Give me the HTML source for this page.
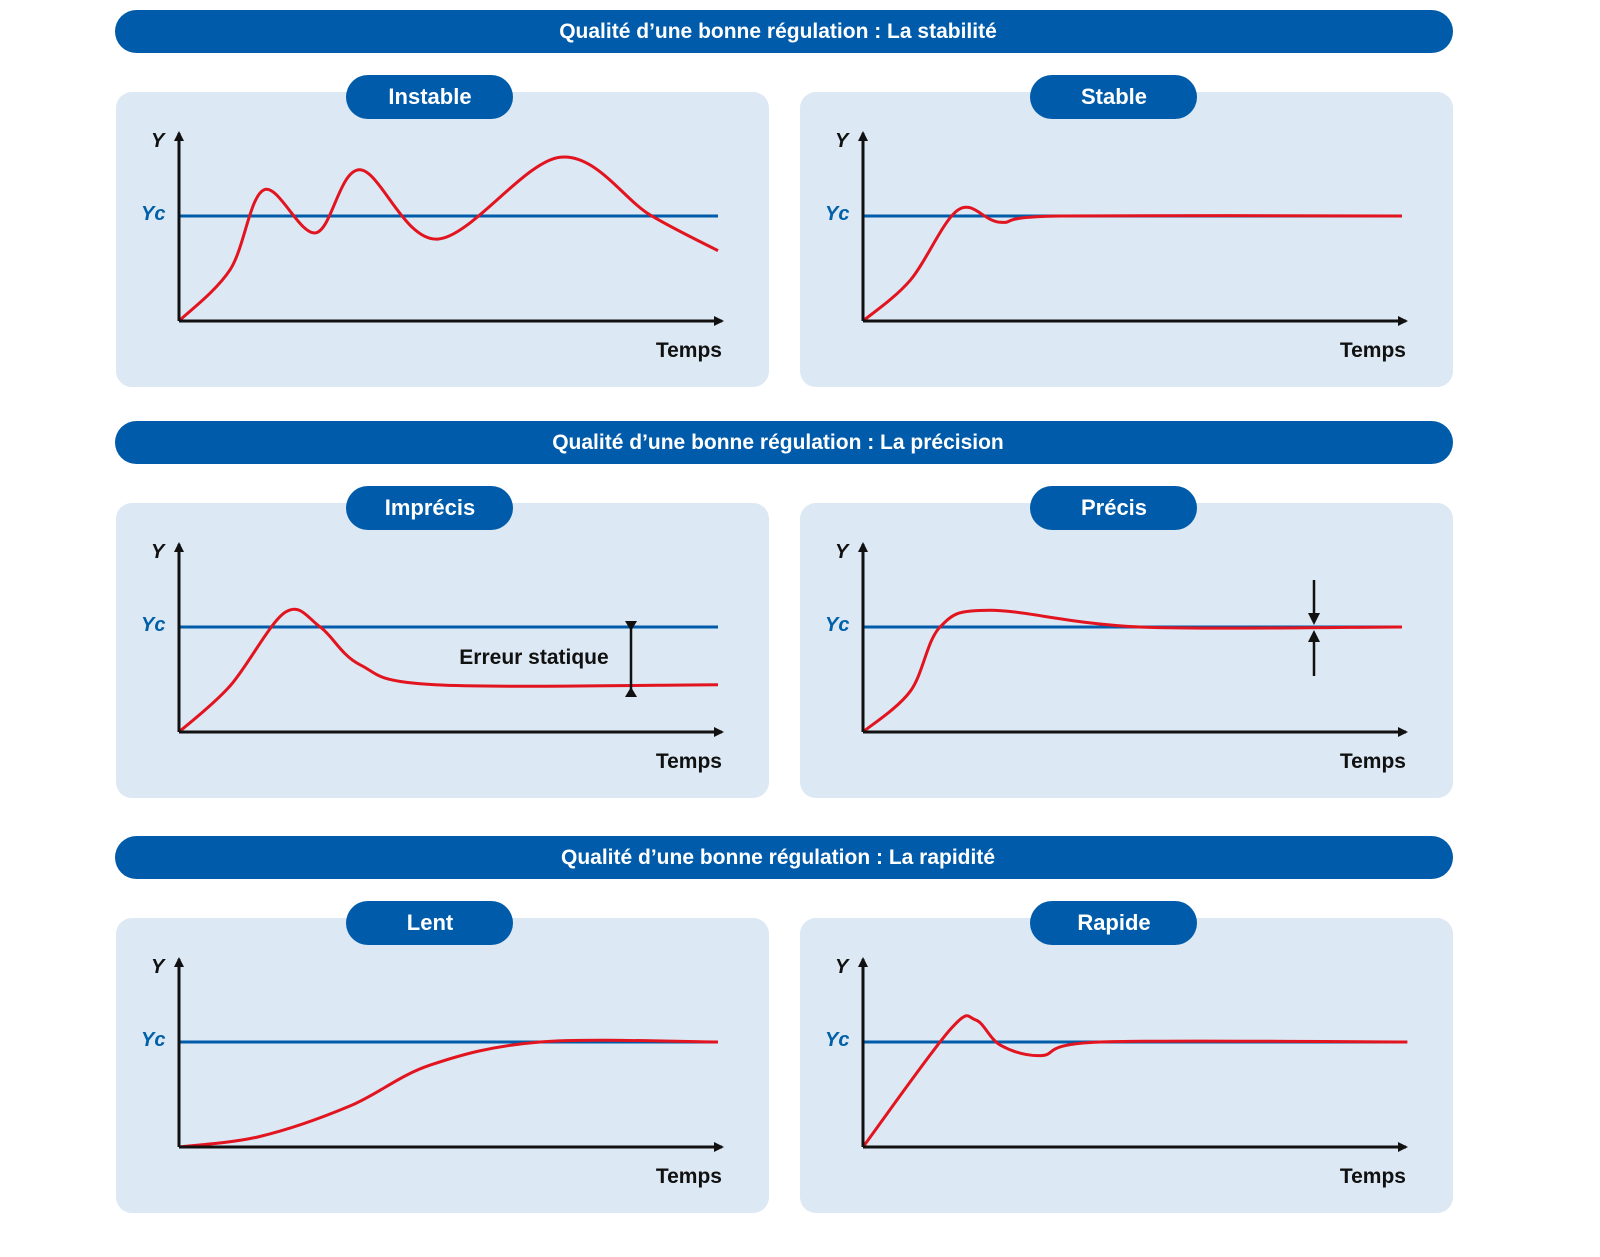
<!DOCTYPE html>
<html><head><meta charset="utf-8"><style>
body{margin:0;background:#fff;width:1600px;height:1257px;overflow:hidden}
svg{display:block}
text{font-family:"Liberation Sans",sans-serif;font-weight:bold}
</style></head><body>
<svg id="s" width="1600" height="1257" viewBox="0 0 1600 1257"></svg>
<script>
const headers=["Qualité d\u2019une bonne régulation : La stabilité","Qualité d\u2019une bonne régulation : La précision","Qualité d\u2019une bonne régulation : La rapidité"];
const titles=["Instable","Stable","Imprécis","Précis","Lent","Rapide"];
const tInstable=[0,9.5,15.8,25.4,33.6,48,70.7,87.4,100];
const vInstable=[0,0.49,1.25,0.84,1.44,0.78,1.56,1.01,0.67];
const tStable=[0,8.8,17.7,25.5,36.7,100];
const vStable=[0,0.39,1.06,0.94,1,1];
const tImprecis=[0,9.5,19.7,26.2,33.6,47.5,100];
const vImprecis=[0,0.44,1.14,1,0.64,0.45,0.45];
const tPrecis=[0,8.8,14.3,23.6,51.4,100];
const vPrecis=[0,0.39,1,1.16,1,1];
const tLent=[0,15,31.7,46.6,67,100];
const vLent=[0,0.1,0.39,0.78,1,1];
const tRapide=[0,16.2,20.9,25.5,33,44.1,101];
const vRapide=[0,1.12,1.21,0.97,0.87,1,1];
const series=[[tInstable,vInstable],[tStable,vStable],[tImprecis,vImprecis],[tPrecis,vPrecis],[tLent,vLent],[tRapide,vRapide]];
const NS="http://www.w3.org/2000/svg";
const svg=document.getElementById('s');
function el(tag,attrs,parent,txt){const e=document.createElementNS(NS,tag);for(const k in attrs)e.setAttribute(k,attrs[k]);if(txt!==undefined)e.textContent=txt;(parent||svg).appendChild(e);return e;}
const hY=[10,421,836], pY=[92,503,918];
el('defs',{},svg).innerHTML='<marker id="ah" markerWidth="10" markerHeight="10" refX="8" refY="5" orient="auto" markerUnits="userSpaceOnUse"><path d="M0,0 L10,5 L0,10 z" fill="#111"/></marker>';
for(let r=0;r<3;r++){
  const h=el('rect',{x:115,y:hY[r],width:1338,height:43,rx:21.5,fill:'#005baa'});
  
  
  const ht=el('text',{x:778,y:hY[r]+28,'text-anchor':'middle',fill:'#fff','font-size':21},svg,headers[r]);
  
  
  for(let c=0;c<2;c++){
    const i=r*2+c, px=c?800:116, py=pY[r];
    const ox=c?863:179, oy=py+229, x1=ox+539, yc=oy-105;
    const g=el('g',{});
    
    
    el('rect',{x:px,y:py,width:653,height:295,rx:16,fill:'#dce8f3'},g);
    const tag=el('rect',{x:px+230,y:py-17,width:167,height:44,rx:22,fill:'#005baa'},g);
    
    
    el('text',{x:px+314,y:py+12,'text-anchor':'middle',fill:'#fff','font-size':22},g,titles[i]);
    // Yc line
    const yl=el('line',{x1:ox,y1:yc,x2:x1,y2:yc,stroke:'#005baa','stroke-width':3},g);
    
    
    // curve
    const [ts,vs]=series[i];
    const X=t=>ox+t*(x1-ox)/100, Y=v=>oy-v*(oy-yc);
    const P=ts.map((t,k)=>[X(t),Y(vs[k])]);
    let d='M'+P[0][0]+','+P[0][1];
    for(let k=0;k<P.length-1;k++){
      const p0=P[Math.max(0,k-1)],p1=P[k],p2=P[k+1],p3=P[Math.min(P.length-1,k+2)];
      const c1=[p1[0]+(p2[0]-p0[0])/6,p1[1]+(p2[1]-p0[1])/6];
      const c2=[p2[0]-(p3[0]-p1[0])/6,p2[1]-(p3[1]-p1[1])/6];
      d+=`C${c1[0]},${c1[1]} ${c2[0]},${c2[1]} ${p2[0]},${p2[1]}`;
    }
    const cv=el('path',{d:d,fill:'none',stroke:'#e2141f','stroke-width':3},g);
    
    
    // axes
    el('line',{x1:ox,y1:oy,x2:ox,y2:oy-188,stroke:'#111','stroke-width':3,'marker-end':'url(#ah)'},g);
    el('line',{x1:ox,y1:oy,x2:ox+543,y2:oy,stroke:'#111','stroke-width':3,'marker-end':'url(#ah)'},g);
    el('text',{x:ox-28,y:oy-174,'font-size':20,'font-style':'italic',fill:'#111'},g,'Y');
    el('text',{x:ox-38,y:yc+4,'font-size':20,'font-style':'italic',fill:'#0060a8'},g,'Yc');
    el('text',{x:ox+543,y:oy+36,'font-size':21,'text-anchor':'end',fill:'#111'},g,'Temps');
    if(i==2){
      el('line',{x1:631,y1:622,x2:631,y2:696,stroke:'#111','stroke-width':2.5},g);
      el('path',{d:'M625,621 L637,621 L631,631 z',fill:'#111'},g);
      el('path',{d:'M625,697 L637,697 L631,687 z',fill:'#111'},g);
      el('text',{x:534,y:664,'font-size':21,'text-anchor':'middle',fill:'#111'},g,'Erreur statique');
    }
    if(i==3){
      el('line',{x1:1314,y1:580,x2:1314,y2:615,stroke:'#111','stroke-width':2.5},g);
      el('path',{d:'M1308,613 L1320,613 L1314,625 z',fill:'#111'},g);
      el('line',{x1:1314,y1:640,x2:1314,y2:676,stroke:'#111','stroke-width':2.5},g);
      el('path',{d:'M1308,642 L1320,642 L1314,630 z',fill:'#111'},g);
    }
  }
}
</script>
</body></html>
